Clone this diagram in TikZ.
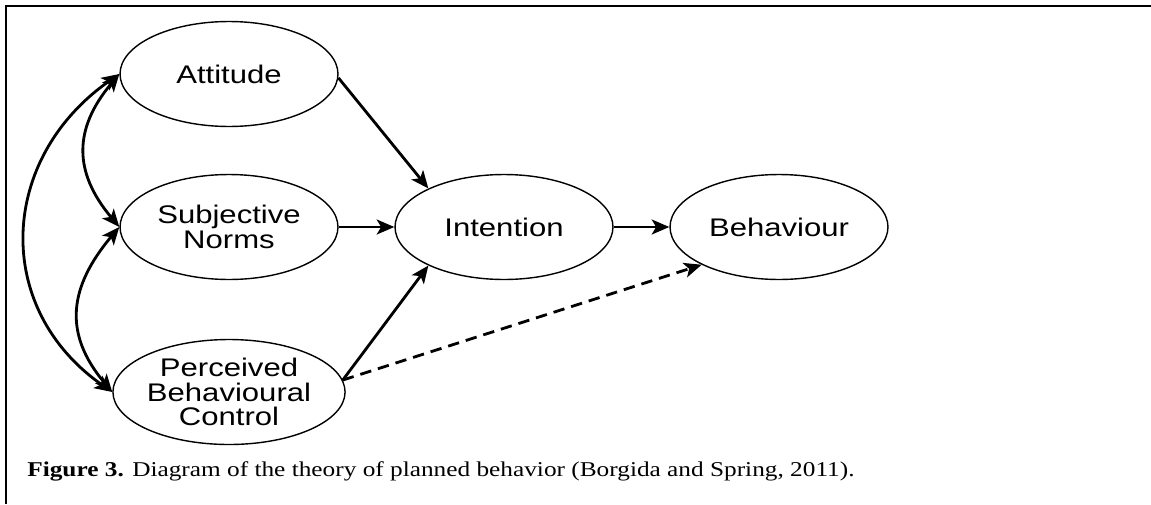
\documentclass[tikz,border=0pt]{standalone}
\usepackage{fontspec}
\usepackage{tikz}
\usetikzlibrary{arrows.meta, shapes.geometric, positioning}
\newfontfamily\diagfont[FakeStretch=1.22]{Liberation Sans}
\newfontfamily\capfont[FakeStretch=1.2]{Liberation Serif}

\begin{document}
\begin{tikzpicture}[x=0.02cm,y=0.02cm,>={Stealth[length=10pt,width=8.5pt,inset=2.5pt]},
    construct/.style={ellipse,draw,line width=0.8pt,minimum width=4.36cm,minimum height=2.1cm,
        inner sep=0pt,align=center,font=\diagfont\fontsize{14.5}{14}\selectfont},
    link/.style={->,line width=1.6pt},
    corr/.style={<->,line width=1.6pt,looseness=1.2}]
    \useasboundingbox (0,0) rectangle (1151,-504);
    % frame (top and left edge)
    \draw[line width=1.3pt] (1151,-6) -- (6,-6) -- (6,-504);

    % constructs
    \node[construct] (att) at (229,-74) {Attitude};
    \node[construct] (norm) at (229,-227) {Subjective\\Norms};
    \node[construct] (pbc) at (229,-392) {Perceived\\Behavioural\\Control};
    \node[construct] (int) at (504,-227) {Intention};
    \node[construct] (beh) at (779,-227) {Behaviour};

    % paths
    \draw[link] (att.-2) -- (int.153);
    \draw[link] (norm.east) -- (int.west);
    \draw[link] (pbc.6) -- (int.207);
    \draw[link] (int.east) -- (beh.west);
    \draw[link,dash pattern=on 6.5pt off 4pt] (pbc.6) -- (beh.206);

    % correlations between the predictors
    \draw[corr] (att.west) to[out=230,in=130] (norm.west);
    \draw[corr] (norm.west) to[out=230,in=130] (pbc.west);
    \draw[corr] (att.west) to[out=215,in=145,looseness=1.18] (pbc.west);

    % caption
    \node[anchor=base west,inner sep=0pt,font=\capfont\fontsize{12}{14}\selectfont] (cap) at (27,-476)
        {\textbf{Figure 3.} Diagram of the theory of planned behavior (Borgida and Spring, 2011).};
\end{tikzpicture}
\end{document}
